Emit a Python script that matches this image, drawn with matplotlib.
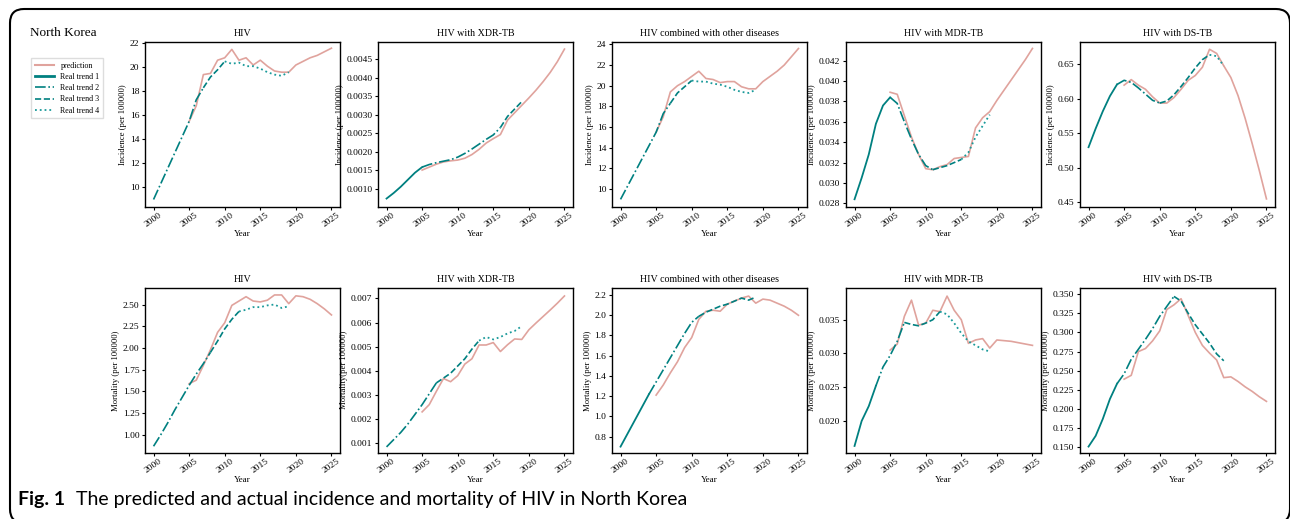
"""Fig 1: predicted vs real HIV incidence / mortality trends, North Korea."""
import numpy as np
import matplotlib as mpl; mpl.use("Agg")
import matplotlib.pyplot as plt
from matplotlib.patches import FancyBboxPatch
from matplotlib.ticker import MultipleLocator, FormatStrFormatter

plt.rcParams.update({"font.family": "serif", "font.serif": ["Liberation Serif", "DejaVu Serif"],
                     "font.size": 6.8, "axes.linewidth": 1.0,
                     "xtick.major.size": 2.5, "ytick.major.size": 2.5,
                     "xtick.major.width": 0.8, "ytick.major.width": 0.8})
C_PRED, C_REAL, C_REAL4 = "#e0a39d", "#008080", "#1a9a9a"

YEARS_REAL = list(range(2000, 2020))
YEARS_PRED = list(range(2005, 2026))

TITLES = ["HIV", "HIV with XDR-TB", "HIV combined with other diseases", "HIV with MDR-TB", "HIV with DS-TB"]

# --- incidence (top row) ---
inc_hiv_real = [9.0, 10.3, 11.6, 12.9, 14.2, 15.5, 17.3, 18.3, 19.2, 19.8, 20.5, 20.3, 20.4, 20.1, 20.1, 19.9, 19.6, 19.4, 19.3, 19.6]
inc_hiv_pred = [15.5, 16.8, 19.4, 19.5, 20.6, 20.8, 21.5, 20.6, 20.8, 20.2, 20.6, 20.1, 19.7, 19.6, 19.6, 20.2, 20.5, 20.8, 21.0, 21.3, 21.6]
inc_xdr_real = [0.00073, 0.00088, 0.00105, 0.00124, 0.00143, 0.00158, 0.00165, 0.00170, 0.00174, 0.00178, 0.00185, 0.00195, 0.00207, 0.00220, 0.00233, 0.00245, 0.00265, 0.00295, 0.00315, 0.00335]
inc_xdr_pred = [0.00150, 0.00158, 0.00166, 0.00172, 0.00175, 0.00177, 0.00182, 0.00192, 0.00206, 0.00223, 0.00235, 0.00246, 0.00285, 0.00305, 0.00325, 0.00345, 0.00366, 0.00389, 0.00414, 0.00443, 0.00477]
inc_oth_real = [9.0, 10.3, 11.6, 12.9, 14.2, 15.5, 17.3, 18.3, 19.3, 19.9, 20.5, 20.4, 20.4, 20.2, 20.1, 19.9, 19.6, 19.4, 19.3, 19.6]
inc_oth_pred = [15.5, 17.0, 19.4, 20.0, 20.4, 20.9, 21.4, 20.7, 20.6, 20.3, 20.4, 20.4, 19.9, 19.7, 19.7, 20.4, 20.9, 21.4, 22.0, 22.8, 23.6]
inc_mdr_real = [0.0284, 0.0305, 0.0328, 0.0358, 0.0376, 0.0384, 0.0378, 0.0360, 0.0343, 0.0328, 0.0317, 0.0313, 0.0315, 0.0317, 0.0320, 0.0323, 0.0330, 0.0345, 0.0356, 0.0367]
inc_mdr_pred = [0.0389, 0.0387, 0.0366, 0.0345, 0.0328, 0.0314, 0.0313, 0.0316, 0.0318, 0.0324, 0.0325, 0.0326, 0.0354, 0.0364, 0.0370, 0.0381, 0.0391, 0.0401, 0.0411, 0.0421, 0.0432]
inc_ds_real = [0.530, 0.557, 0.582, 0.604, 0.621, 0.627, 0.624, 0.616, 0.607, 0.598, 0.594, 0.597, 0.606, 0.618, 0.631, 0.645, 0.657, 0.664, 0.662, 0.648]
inc_ds_pred = [0.620, 0.628, 0.620, 0.614, 0.603, 0.594, 0.594, 0.602, 0.614, 0.627, 0.634, 0.646, 0.672, 0.666, 0.648, 0.631, 0.605, 0.572, 0.535, 0.496, 0.455]

# --- mortality (bottom row) ---
mor_hiv_real = [0.87, 1.00, 1.14, 1.29, 1.43, 1.57, 1.70, 1.82, 1.95, 2.08, 2.22, 2.33, 2.42, 2.44, 2.47, 2.47, 2.49, 2.50, 2.46, 2.48]
mor_hiv_pred = [1.59, 1.63, 1.80, 1.98, 2.18, 2.29, 2.49, 2.54, 2.59, 2.54, 2.53, 2.55, 2.61, 2.61, 2.51, 2.60, 2.59, 2.56, 2.51, 2.45, 2.38]
mor_xdr_real = [0.00085, 0.00115, 0.00145, 0.00180, 0.00220, 0.00260, 0.00305, 0.00350, 0.00370, 0.00390, 0.00420, 0.00450, 0.00490, 0.00525, 0.00540, 0.00530, 0.00540, 0.00555, 0.00565, 0.00585]
mor_xdr_pred = [0.00230, 0.00260, 0.00315, 0.00368, 0.00355, 0.00380, 0.00428, 0.00450, 0.00507, 0.00507, 0.00517, 0.00480, 0.00508, 0.00532, 0.00530, 0.00570, 0.00598, 0.00625, 0.00652, 0.00680, 0.00710]
mor_oth_real = [0.70, 0.83, 0.96, 1.09, 1.22, 1.34, 1.46, 1.58, 1.70, 1.82, 1.93, 1.99, 2.03, 2.06, 2.09, 2.11, 2.14, 2.17, 2.15, 2.18]
mor_oth_pred = [1.21, 1.31, 1.43, 1.54, 1.68, 1.78, 1.96, 2.04, 2.05, 2.04, 2.11, 2.14, 2.17, 2.19, 2.12, 2.16, 2.15, 2.12, 2.09, 2.05, 2.00]
mor_mdr_real = [0.0163, 0.0200, 0.0222, 0.0252, 0.0280, 0.0297, 0.0318, 0.0346, 0.0343, 0.0341, 0.0345, 0.0350, 0.0362, 0.0358, 0.0345, 0.0330, 0.0318, 0.0312, 0.0306, 0.0303]
mor_mdr_pred = [0.0305, 0.0314, 0.0355, 0.0379, 0.0342, 0.0345, 0.0364, 0.0362, 0.0385, 0.0364, 0.0350, 0.0315, 0.0320, 0.0322, 0.0308, 0.0320, 0.0319, 0.0318, 0.0316, 0.0314, 0.0312]
mor_ds_real = [0.151, 0.165, 0.187, 0.213, 0.233, 0.246, 0.265, 0.278, 0.291, 0.305, 0.321, 0.334, 0.347, 0.341, 0.325, 0.310, 0.298, 0.286, 0.272, 0.263]
mor_ds_pred = [0.239, 0.244, 0.275, 0.279, 0.289, 0.302, 0.330, 0.336, 0.344, 0.322, 0.300, 0.283, 0.273, 0.264, 0.241, 0.242, 0.236, 0.229, 0.223, 0.216, 0.210]

# joinpoint segments (start, end) for real trend 1..4 per panel, None = absent
SEG_INC = [[None, (2000, 2007), (2007, 2010), (2010, 2019)],
           [(2000, 2005), (2005, 2016), (2016, 2019), None],
           [None, (2000, 2007), (2007, 2010), (2010, 2019)],
           [(2000, 2005), (2005, 2011), (2011, 2015), (2015, 2019)],
           [(2000, 2004), (2004, 2010), (2010, 2017), (2017, 2019)]]
SEG_MOR = [[None, (2000, 2008), (2008, 2012), (2012, 2019)],
           [None, (2000, 2007), (2007, 2013), (2013, 2019)],
           [(2000, 2004), (2004, 2011), (2011, 2019), None],
           [(2000, 2003), (2003, 2007), (2007, 2012), (2012, 2019)],
           [(2000, 2004), (2004, 2012), (2012, 2019), None]]

INC = [(inc_hiv_real, inc_hiv_pred), (inc_xdr_real, inc_xdr_pred), (inc_oth_real, inc_oth_pred),
       (inc_mdr_real, inc_mdr_pred), (inc_ds_real, inc_ds_pred)]
MOR = [(mor_hiv_real, mor_hiv_pred), (mor_xdr_real, mor_xdr_pred), (mor_oth_real, mor_oth_pred),
       (mor_mdr_real, mor_mdr_pred), (mor_ds_real, mor_ds_pred)]

# axis styling: ylim, tick step, tick format
YFMT_INC = [((8.4, 22.14), 2, "%d"), ((0.00051, 0.00497), 0.0005, "%.4f"), ((8.29, 24.26), 2, "%d"),
            ((0.02767, 0.04386), 0.002, "%.3f"), ((0.4437, 0.683), 0.05, "%.2f")]
YFMT_MOR = [((0.796, 2.69), 0.25, "%.2f"), ((0.00061, 0.00743), 0.001, "%.3f"), ((0.64, 2.27), 0.2, "%.1f"),
            ((0.0153, 0.0397), 0.005, "%.3f"), ((0.143, 0.358), 0.025, "%.3f")]
YLAB_INC = ["Incidence (per 100000)"] * 5
YLAB_MOR = ["Mortality (per 100000)", "Mortality(per 100000)", "Mortality (per 100000)",
            "Mortality (per 100000)", "Mortality (per 100000)"]

STYLES = [dict(ls="-", c=C_REAL, lw=1.3), dict(ls="-.", c=C_REAL, lw=1.2),
          dict(ls="--", c=C_REAL, lw=1.2), dict(ls=":", c=C_REAL4, lw=1.3)]
W, H = 1290, 519
fig = plt.figure(figsize=(W / 100, H / 100), dpi=100)
LEFTS = [145, 378, 612, 846, 1080]


def draw(ax, real, pred, segs, yspec, title, ylab):
    yr = np.array(YEARS_REAL); rv = np.array(real)
    ax.plot(YEARS_PRED, pred, c=C_PRED, lw=1.2)
    for seg, st in zip(segs, STYLES):
        if seg is None: continue
        m = (yr >= seg[0]) & (yr <= seg[1])
        ax.plot(yr[m], rv[m], **st)
    (lo, hi), step, fmt = yspec
    ax.set_xlim(1998.8, 2026.2); ax.set_ylim(lo, hi)
    ax.xaxis.set_major_locator(MultipleLocator(5)); ax.yaxis.set_major_locator(MultipleLocator(step))
    ax.yaxis.set_major_formatter(FormatStrFormatter(fmt))
    ax.tick_params(axis="x", labelrotation=35, labelsize=6.8, pad=1)
    ax.tick_params(axis="y", labelsize=6.8, pad=1.5)
    for t in ax.get_xticklabels(): t.set_ha("center")
    ax.set_title(title, fontsize=7.2, pad=4)
    ax.set_xlabel("Year", fontsize=6.5, labelpad=1)
    ax.set_ylabel(ylab, fontsize=6.2, labelpad=2)


for i in range(5):
    ax = fig.add_axes([LEFTS[i] / W, (H - 206.7) / H, 195 / W, 165 / H])
    draw(ax, *INC[i], SEG_INC[i], YFMT_INC[i], TITLES[i], YLAB_INC[i])
    ax = fig.add_axes([LEFTS[i] / W, (H - 452.7) / H, 195 / W, 164.7 / H])
    draw(ax, *MOR[i], SEG_MOR[i], YFMT_MOR[i], TITLES[i], YLAB_MOR[i])

# legend on the left of the first panel
hs = [plt.Line2D([], [], c=C_PRED, lw=1.5)] + [plt.Line2D([], [], **dict(s, lw=s["lw"] + (0.7 if k == 0 else 0))) for k, s in enumerate(STYLES)]
fig.legend(hs, ["prediction", "Real trend 1", "Real trend 2", "Real trend 3", "Real trend 4"],
           loc="upper left", bbox_to_anchor=(27 / W, 1 - 54 / H), fontsize=5.8, handlelength=2.4,
           labelspacing=0.4, borderpad=0.45, fancybox=False, edgecolor="#dddddd", framealpha=1)
fig.text(30 / W, 1 - 33 / H, "North Korea", fontsize=9.5, va="center")

# journal frame + caption (bottom and right edges sit at the picture border)
frame = FancyBboxPatch((10, -4), 1280, 514, boxstyle="round,pad=0,rounding_size=14",
                       fc="none", ec="black", lw=1.5, transform=None, figure=fig)
fig.patches.append(frame)
cap_y = 1 - 500 / H
t1 = fig.text(18 / W, cap_y, "Fig. 1", fontsize=14, fontweight="bold", family="Lato", va="center")
fig.canvas.draw()
bb = t1.get_window_extent()
fig.text((bb.x1 + 11) / W, cap_y, "The predicted and actual incidence and mortality of HIV in North Korea",
         fontsize=14, family="Lato", va="center")
fig.savefig("out.png", dpi=100)
